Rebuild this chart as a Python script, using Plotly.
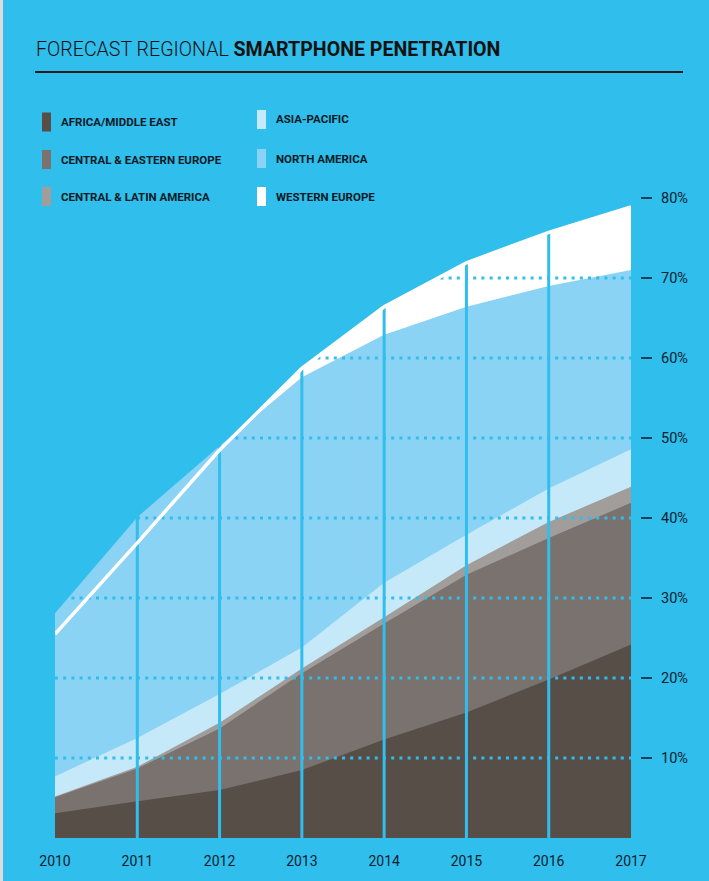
import plotly.graph_objects as go

# ---- data -------------------------------------------------------------
years = [2010, 2011, 2012, 2013, 2014, 2015, 2016, 2017]

africa_middle_east = [3.1, 4.6, 6.0, 8.5, 12.3, 15.7, 19.8, 24.2]
central_eastern_europe = [5.1, 8.7, 13.7, 20.6, 26.8, 32.9, 37.5, 41.9]
central_latin_america = [5.2, 8.9, 14.4, 21.2, 27.6, 34.1, 39.5, 43.9]
asia_pacific = [7.7, 12.5, 18.0, 23.8, 31.9, 37.9, 43.7, 48.6]
north_america = [28.1, 40.1, 49.0, 57.6, 62.9, 66.4, 69.0, 71.0]
western_europe = [25.5, 36.9, 48.5, 58.7, 66.4, 71.9, 75.7, 78.9]

y_ticks = [10, 20, 30, 40, 50, 60, 70, 80]
y_tick_labels = [f"{v}%" for v in y_ticks]

legend_left = ["AFRICA/MIDDLE EAST", "CENTRAL & EASTERN EUROPE", "CENTRAL & LATIN AMERICA"]
legend_right = ["ASIA-PACIFIC", "NORTH AMERICA", "WESTERN EUROPE"]

# ---- style ------------------------------------------------------------
BG = "rgb(48,190,236)"
INK = "#0d2230"
FONT = "Roboto, Liberation Sans, sans-serif"

C_AME = "#574e48"
C_CEE = "#7a726e"
C_CLA = "#a19d9a"
C_AP = "#c6e9f9"
C_NA = "#8bd3f4"
C_WE = "#ffffff"

W, H = 709, 881
L, R, T, B = 55, 78, 158, 43
Y_MAX = 85
PW, PH = W - L - R, H - T - B


def px(x):
    return (x - L) / PW


def py(y):
    return (H - B - y) / PH


fig = go.Figure()

# overlapping areas, each filled down to zero, largest first
series = [
    ("WESTERN EUROPE", western_europe, C_WE),
    ("NORTH AMERICA", north_america, C_NA),
    ("ASIA-PACIFIC", asia_pacific, C_AP),
    ("CENTRAL & LATIN AMERICA", central_latin_america, C_CLA),
    ("CENTRAL & EASTERN EUROPE", central_eastern_europe, C_CEE),
    ("AFRICA/MIDDLE EAST", africa_middle_east, C_AME),
]
for name, vals, col in series:
    fig.add_trace(go.Scatter(
        x=years, y=vals, name=name, mode="lines", fill="tozeroy",
        fillcolor=col, line=dict(width=0, color=col), hoverinfo="skip",
    ))

# dotted horizontal guides over the areas
gx, gy = [], []
for t in y_ticks[:-1]:
    gx += [years[0], years[-1], None]
    gy += [t, t, None]
fig.add_trace(go.Scatter(
    x=gx, y=gy, mode="lines", line=dict(color=BG, width=3, dash="3px,5.2px"),
    hoverinfo="skip", showlegend=False,
))

# vertical year separators
vx, vy = [], []
for yr in years[1:-1]:
    vx += [yr, yr, None]
    vy += [0, Y_MAX, None]
fig.add_trace(go.Scatter(
    x=vx, y=vy, mode="lines", line=dict(color=BG, width=3),
    hoverinfo="skip", showlegend=False,
))

# Western Europe outline drawn on top
fig.add_trace(go.Scatter(
    x=years, y=western_europe, mode="lines", line=dict(color=C_WE, width=3.5),
    hoverinfo="skip", showlegend=False,
))

shapes = []
annotations = []

# title and rule
annotations.append(dict(
    text="FORECAST REGIONAL <b>SMARTPHONE PENETRATION</b>",
    xref="paper", yref="paper", x=px(34), y=py(50), xanchor="left", yanchor="middle",
    showarrow=False, font=dict(family=FONT, size=19.6, color="#111111", weight=300),
))
shapes.append(dict(type="line", xref="paper", yref="paper",
                   x0=px(35), x1=px(683), y0=py(72), y1=py(72),
                   line=dict(color="#1a1a1a", width=2)))

# legend swatches and labels
left_cols = [C_AME, C_CEE, C_CLA]
right_cols = [C_AP, C_NA, C_WE]
left_rows = [122, 159.5, 196.5]
right_rows = [119.5, 158.5, 196.5]
LEG_FONT = dict(family=FONT, size=11.5, color="#0b1a24")
for lab, col, yc in zip(legend_left, left_cols, left_rows):
    shapes.append(dict(type="rect", xref="paper", yref="paper",
                       x0=px(42), x1=px(51), y0=py(yc - 9.5), y1=py(yc + 9.5),
                       fillcolor=col, line=dict(width=0)))
    annotations.append(dict(text=f"<b>{lab}</b>", xref="paper", yref="paper",
                            x=px(59), y=py(yc), xanchor="left", yanchor="middle",
                            showarrow=False, font=LEG_FONT))
for lab, col, yc in zip(legend_right, right_cols, right_rows):
    shapes.append(dict(type="rect", xref="paper", yref="paper",
                       x0=px(257), x1=px(266), y0=py(yc - 9.5), y1=py(yc + 9.5),
                       fillcolor=col, line=dict(width=0)))
    annotations.append(dict(text=f"<b>{lab}</b>", xref="paper", yref="paper",
                            x=px(274), y=py(yc), xanchor="left", yanchor="middle",
                            showarrow=False, font=LEG_FONT))

# short dashes beside the right-hand percentage labels
for t in y_ticks:
    shapes.append(dict(type="line", xref="paper", yref="y",
                       x0=px(641), x1=px(652), y0=t, y1=t,
                       line=dict(color=INK, width=1.6)))

# thin light strip on the far left edge
shapes.append(dict(type="rect", xref="paper", yref="paper",
                   x0=px(0), x1=px(3), y0=py(H), y1=py(0),
                   fillcolor="#dcdcdc", line=dict(width=0), layer="below"))

fig.update_layout(
    width=W, height=H,
    margin=dict(l=L, r=R, t=T, b=B, pad=0),
    paper_bgcolor=BG, plot_bgcolor=BG,
    showlegend=False,
    shapes=shapes, annotations=annotations,
    xaxis=dict(
        range=[years[0], years[-1]], tickmode="array", tickvals=years,
        ticktext=[str(y) for y in years], showgrid=False, zeroline=False,
        showline=False, ticks="", ticklabelstandoff=13,
        tickfont=dict(family=FONT, size=14, color=INK), fixedrange=True,
    ),
    yaxis=dict(
        range=[0, Y_MAX], side="right", tickmode="array", tickvals=y_ticks,
        ticktext=y_tick_labels, showgrid=False, zeroline=False, showline=False,
        ticks="", ticklabelstandoff=29,
        tickfont=dict(family=FONT, size=14.5, color=INK), fixedrange=True,
    ),
)

fig.write_html("out.html", config={"displayModeBar": False})
